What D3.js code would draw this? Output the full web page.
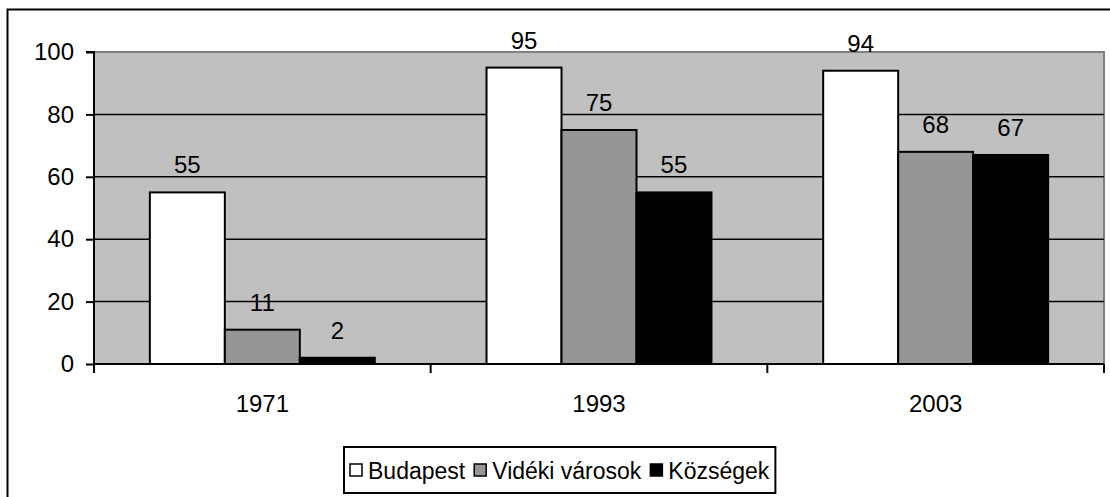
<!DOCTYPE html>
<html>
<head>
<meta charset="utf-8">
<script src="https://cdn.jsdelivr.net/npm/d3@7"></script>
<style>
  body { margin: 0; background: #fff; }
  text { font-family: "Liberation Sans", Arial, sans-serif; fill: #000; }
</style>
</head>
<body>
<div class="chart"></div>
<script>
const years = ["1971", "1993", "2003"]
const series = ["Budapest", "Vidéki városok", "Községek"]
const budapest = [55, 95, 94]
const videki = [11, 75, 68]
const kozsegek = [2, 55, 67]
const yTicks = [0, 20, 40, 60, 80, 100]
const colors = ["#ffffff", "#969696", "#000000"]

const width = 1110, height = 497
const plot = {left: 94, right: 1104, top: 52, bottom: 364}

const values = [budapest, videki, kozsegek]
const data = years.map((y, i) => ({year: y, vals: series.map((s, j) => ({name: s, value: values[j][i], color: colors[j]}))}))

const svg = d3.select('.chart').append('svg')
    .attr("width", width)
    .attr("height", height)

// outer frame
svg.append('rect')
    .attr('x', 7.5).attr('y', 9.5)
    .attr('width', 1110).attr('height', 500)
    .attr('fill', 'none').attr('stroke', '#000').attr('stroke-width', 2)

const xScale = d3.scaleBand()
    .domain(years)
    .range([plot.left, plot.right])

const xSub = d3.scaleBand()
    .domain(series)
    .range([0, xScale.bandwidth()])
    .paddingOuter(0.745)

const yScale = d3.scaleLinear()
    .domain([0, 100])
    .range([plot.bottom, plot.top])

// plot background
svg.append('rect')
    .attr('x', plot.left).attr('y', plot.top)
    .attr('width', plot.right - plot.left).attr('height', plot.bottom - plot.top)
    .attr('fill', '#c0c0c0').attr('stroke', '#808080').attr('stroke-width', 2)

// gridlines
svg.selectAll('.grid')
    .data(yTicks.filter(t => t > 0 && t < 100))
    .enter()
    .append('line')
    .attr('x1', plot.left).attr('x2', plot.right)
    .attr('y1', d => yScale(d)).attr('y2', d => yScale(d))
    .attr('stroke', '#000').attr('stroke-width', 1.5)

// bars
const groups = svg.selectAll('.group')
    .data(data)
    .enter()
    .append('g')
    .attr('transform', d => `translate(${xScale(d.year)},0)`)

groups.selectAll('rect')
    .data(d => d.vals)
    .enter()
    .append('rect')
    .attr('x', d => xSub(d.name))
    .attr('y', d => yScale(d.value))
    .attr('width', xSub.bandwidth())
    .attr('height', d => yScale(0) - yScale(d.value))
    .attr('fill', d => d.color)
    .attr('stroke', '#000').attr('stroke-width', 2)

groups.selectAll('.lbl')
    .data(d => d.vals)
    .enter()
    .append('text')
    .attr('x', d => xSub(d.name) + xSub.bandwidth() / 2)
    .attr('y', d => yScale(d.value) - 19)
    .attr('text-anchor', 'middle')
    .style('font-size', '24px')
    .text(d => d.value)

// y axis
const yAxis = d3.axisLeft(yScale)
    .tickValues(yTicks)
    .tickSize(8)
    .tickPadding(12)

const yg = svg.append('g')
    .attr('transform', `translate(${plot.left},0)`)
    .call(yAxis)
yg.select('.domain').attr('stroke', '#000').attr('stroke-width', 2).attr('d', `M-8,${plot.top}H0V${plot.bottom}`)
yg.selectAll('.tick line').attr('stroke', '#000').attr('stroke-width', 2)
yg.selectAll('.tick text').style('font-size', '24px').style('font-family', '"Liberation Sans", Arial, sans-serif')

// x axis
const xg = svg.append('g')
    .attr('transform', `translate(0,${plot.bottom})`)
svg.append('line')
    .attr('x1', plot.left).attr('x2', plot.right)
    .attr('y1', plot.bottom).attr('y2', plot.bottom)
    .attr('stroke', '#000').attr('stroke-width', 2)
xg.selectAll('.xtick')
    .data(xScale.domain().concat(['end']))
    .enter()
    .append('line')
    .attr('x1', (d, i) => i < years.length ? xScale(d) : plot.right)
    .attr('x2', (d, i) => i < years.length ? xScale(d) : plot.right)
    .attr('y1', 0).attr('y2', 9)
    .attr('stroke', '#000').attr('stroke-width', 2)
xg.selectAll('.xlbl')
    .data(years)
    .enter()
    .append('text')
    .attr('x', d => xScale(d) + xScale.bandwidth() / 2)
    .attr('y', 48)
    .attr('text-anchor', 'middle')
    .style('font-size', '24px')
    .text(d => d)

// legend
const legend = svg.append('g')
const legBox = legend.append('rect')
    .attr('fill', '#fff').attr('stroke', '#000').attr('stroke-width', 2)
let lx = 350
series.forEach((s, i) => {
    legend.append('rect')
        .attr('x', lx).attr('y', 464)
        .attr('width', 12).attr('height', 12)
        .attr('fill', colors[i]).attr('stroke', '#000').attr('stroke-width', 1.5)
    const t = legend.append('text')
        .attr('x', lx + 18).attr('y', 479)
        .style('font-size', '23px')
        .text(s)
    lx += 18 + t.node().getComputedTextLength() + 9
})
legBox.attr('x', 344).attr('y', 447).attr('width', lx - 344 - 3).attr('height', 46)
</script>
</body>
</html>
